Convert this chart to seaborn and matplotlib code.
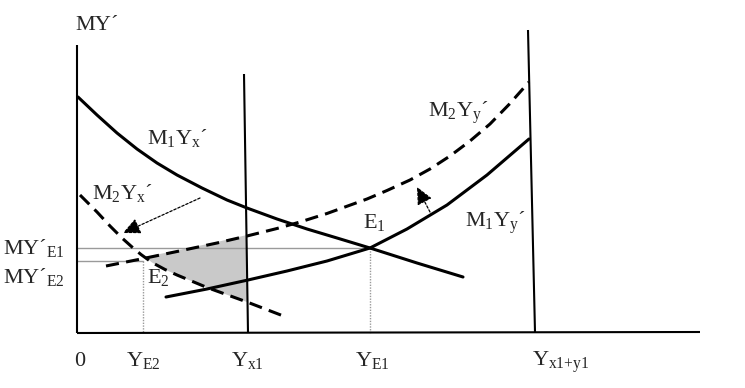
import numpy as np
import pandas as pd
import seaborn as sns
import matplotlib
matplotlib.use("Agg")
import matplotlib.pyplot as plt

sns.set_theme(style="white")
plt.rcParams["font.family"] = ["Liberation Serif", "DejaVu Serif"]
plt.rcParams["mathtext.fontset"] = "custom"
plt.rcParams["mathtext.rm"] = "Liberation Serif"
plt.rcParams["mathtext.it"] = "Liberation Serif"
plt.rcParams["mathtext.bf"] = "Liberation Serif:bold"

# ---- data (origin at the axes corner) ----
m1yx_x = [1, 20, 40, 60, 80, 100, 125, 150, 170, 200, 230, 260, 293, 340, 386]
m1yx_y = [236, 218, 200, 184, 170, 158, 145, 133, 125, 114, 104, 95, 85, 70, 56]

m1yy_x = [89, 130, 171, 210, 250, 293, 330, 370, 410, 452]
m1yy_y = [36, 44, 53, 62, 72, 85, 104, 128, 158, 194]

m2yy_x = [29, 64, 100, 140, 170, 200, 223, 250, 290, 310, 333, 353, 373, 393, 413, 432, 452]
m2yy_y = [67, 74, 81.5, 90, 97, 104.5, 111, 119.5, 134, 142.5, 153, 164, 177, 192, 209, 228.5, 251]

m2yx_x = [3, 20, 33, 45, 55, 64, 75, 88, 100, 130, 170, 209]
m2yx_y = [138, 121, 107, 95, 86, 78.5, 70.5, 63.5, 58, 45.5, 31, 16]

# equilibrium points / guide values
e1 = (293, 85)
e2 = (66, 72)
yx1_line = ([167, 171], [259, 0])
yxy_line = ([451, 458], [303, 1])
y_axis = ([0, 0], [288, 0])
x_axis = ([0, 623], [0, 1])
shade_x = (68, 170)

# labels
lbl_curves = {
    r"$M_1Y_x$´": (70, 189),
    r"$M_2Y_x$´": (15, 134),
    r"$M_2Y_y$´": (351, 216),
    r"$M_1Y_y$´": (388, 106),
    r"$E_1$": (286, 105),
    r"$E_2$": (70, 50),
    "MY´": (-2, 303),
    r"MY´$_{E1}$": (-74, 79),
    r"MY´$_{E2}$": (-74, 50),
}
xtick_labels = ["0", r"$Y_{E2}$", r"$Y_{x1}$", r"$Y_{E1}$", r"$Y_{x1{+}y1}$"]
xtick_pos = [-3, 49, 154, 278, 455]

fig = plt.figure(figsize=(7.45, 3.88), dpi=100)
ax = fig.add_axes([0, 0, 1, 1])
ax.set_xlim(-77, 668)
ax.set_ylim(-55, 333)
ax.axis("off")

lw = 2.2
dash = (0, (4.3, 2.4))

# shaded area between the dashed curves from E2 to Yx1
ux = np.array(m2yy_x, float); uy = np.array(m2yy_y, float)
lx = np.array(m2yx_x, float); ly = np.array(m2yx_y, float)
mu = (ux >= shade_x[0]) & (ux <= shade_x[1])
ml = (lx >= shade_x[0]) & (lx <= shade_x[1])
px = np.concatenate([[shade_x[0]], ux[mu], [shade_x[1]], lx[ml][::-1]])
py = np.concatenate([[76], uy[mu] + 1, [100], ly[ml][::-1]])
ax.fill(px, py, color="#c9c9c9", lw=0, zorder=1)

# guide lines
ax.plot([0, e1[0]], [e1[1], e1[1]], color="#9a9a9a", lw=1.0, zorder=2)
ax.plot([0, e2[0]], [e2[1], e2[1]], color="#9a9a9a", lw=1.0, zorder=2)
ax.plot([e2[0], e2[0]], [e2[1], 0], color="#9a9a9a", lw=1.0, ls=(0, (1, 1)), zorder=2)
ax.plot([e1[0], e1[0]], [e1[1], 0], color="#9a9a9a", lw=1.0, ls=(0, (1, 1)), zorder=2)

# axes and vertical limits
for xs, ys in (y_axis, x_axis, yx1_line, yxy_line):
    ax.plot(xs, ys, color="black", lw=1.5, zorder=3, solid_capstyle="butt")

# curves
df1 = pd.DataFrame({"x": m1yx_x, "y": m1yx_y})
df2 = pd.DataFrame({"x": m1yy_x, "y": m1yy_y})
df3 = pd.DataFrame({"x": m2yy_x, "y": m2yy_y})
df4 = pd.DataFrame({"x": m2yx_x, "y": m2yx_y})
sns.lineplot(data=df1, x="x", y="y", ax=ax, color="black", lw=lw, sort=False, zorder=4)
sns.lineplot(data=df2, x="x", y="y", ax=ax, color="black", lw=lw, sort=False, zorder=4)
sns.lineplot(data=df3, x="x", y="y", ax=ax, color="black", lw=lw, sort=False, zorder=4)
sns.lineplot(data=df4, x="x", y="y", ax=ax, color="black", lw=lw, sort=False, zorder=4)
ax.lines[-1].set_linestyle(dash)
ax.lines[-2].set_linestyle(dash)
for ln in ax.lines[-4:]:
    ln.set_solid_joinstyle("round")
    ln.set_dash_capstyle("butt")

# shift arrows
arr = dict(arrowstyle="-|>,head_length=0.75,head_width=0.35", color="black",
           lw=0.9, linestyle=(0, (2, 1.5)), shrinkA=0, shrinkB=0, mutation_scale=14)
ax.annotate("", xy=(46, 100), xytext=(123, 135), arrowprops=arr, zorder=5)
ax.annotate("", xy=(340, 146), xytext=(353, 121), arrowprops=arr, zorder=5)

fs = 16
for txt, (x, y) in lbl_curves.items():
    ax.text(x, y, txt, fontsize=fs, ha="left", va="baseline", zorder=6)
for txt, x in zip(xtick_labels, xtick_pos):
    ax.text(x, -33, txt, fontsize=fs, ha="left", va="baseline")

fig.savefig("out.png", dpi=100)
